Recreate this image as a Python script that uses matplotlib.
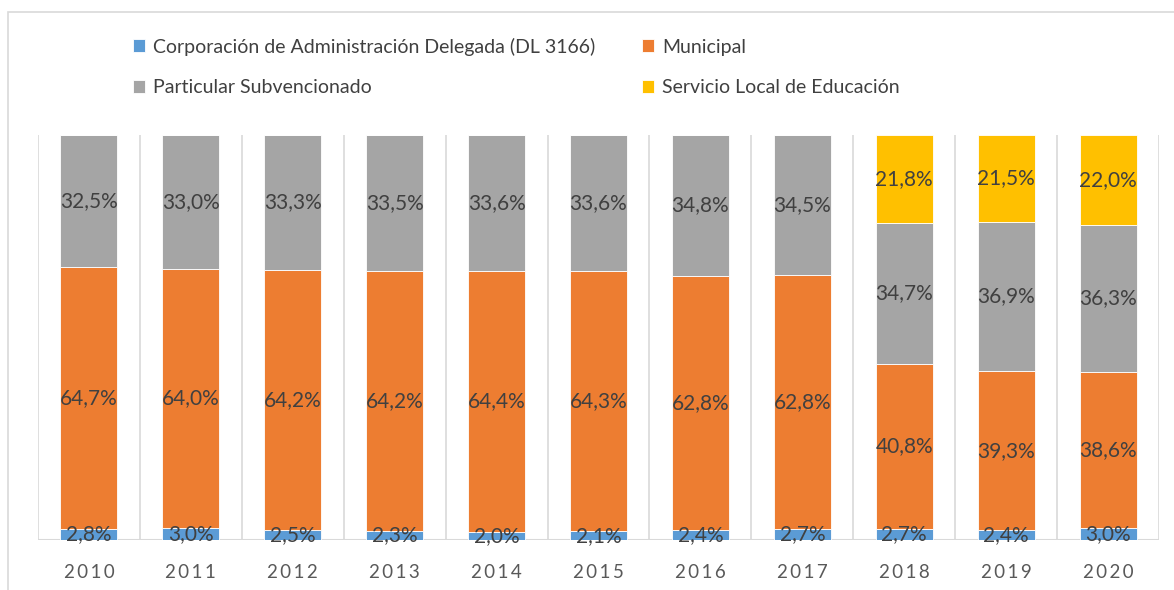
import matplotlib.pyplot as plt
import numpy as np
from matplotlib.patches import Rectangle

plt.rcParams["font.family"] = ["Lato", "DejaVu Sans"]

anios = ["2010", "2011", "2012", "2013", "2014", "2015", "2016", "2017", "2018", "2019", "2020"]
corporacion = [2.8, 3.0, 2.5, 2.3, 2.0, 2.1, 2.4, 2.7, 2.7, 2.4, 3.0]
municipal = [64.7, 64.0, 64.2, 64.2, 64.4, 64.3, 62.8, 62.8, 40.8, 39.3, 38.6]
particular = [32.5, 33.0, 33.3, 33.5, 33.6, 33.6, 34.8, 34.5, 34.7, 36.9, 36.3]
servicio = [0, 0, 0, 0, 0, 0, 0, 0, 21.8, 21.5, 22.0]

series = [
    ("Corporación de Administración Delegada (DL 3166)", corporacion, "#5B9BD5"),
    ("Municipal", municipal, "#ED7D31"),
    ("Particular Subvencionado", particular, "#A5A5A5"),
    ("Servicio Local de Educación", servicio, "#FFC000"),
]

fig = plt.figure(figsize=(11.74, 5.90), dpi=100)
ax = fig.add_axes([38 / 1174, 50 / 590, 1121 / 1174, 405 / 590])

x = np.arange(len(anios))
base = np.zeros(len(anios))
handles = {}
for nombre, valores, color in series:
    v = np.array(valores)
    b = ax.bar(x, v, bottom=base, width=0.56, color=color, edgecolor="white",
               linewidth=0.6, label=nombre, zorder=2)
    handles[nombre] = b
    for i in range(len(anios)):
        if v[i] > 0:
            ax.text(x[i], base[i] + v[i] / 2, f"{v[i]:.1f}%".replace(".", ","),
                    ha="center", va="center", fontsize=15, color="#404040", zorder=3)
    base = base + v

ax.set_xlim(-0.5, len(anios) - 0.5)
ax.set_ylim(0, 100)
for xb in np.arange(-0.5, len(anios), 1.0):
    ax.axvline(xb, color="#D9D9D9", linewidth=1.2, zorder=1)
ax.axhline(0, color="#D9D9D9", linewidth=1.5, zorder=1)

for s in ax.spines.values():
    s.set_visible(False)
ax.set_yticks([])
ax.set_xticks(x)
ax.set_xticklabels(["\u2009".join(a) for a in anios], fontsize=13.5, color="#595959")
ax.tick_params(axis="x", length=0, pad=17)

orden = ["Corporación de Administración Delegada (DL 3166)", "Particular Subvencionado",
         "Municipal", "Servicio Local de Educación"]
fig.legend([handles[n] for n in orden], orden, ncol=2, loc="upper left",
           bbox_to_anchor=(115 / 1174, 1 - 20 / 590), frameon=False, fontsize=14,
           labelcolor="#404040", handlelength=0.65, handleheight=0.65, handletextpad=0.4,
           columnspacing=2.4, labelspacing=1.2)

fig.patches.append(Rectangle((8 / 1174, -0.1), 1.2, 1 - 12 / 590 + 0.1,
                             transform=fig.transFigure, fill=False,
                             edgecolor="#D9D9D9", linewidth=1.2))

fig.savefig("out.png", dpi=100)
